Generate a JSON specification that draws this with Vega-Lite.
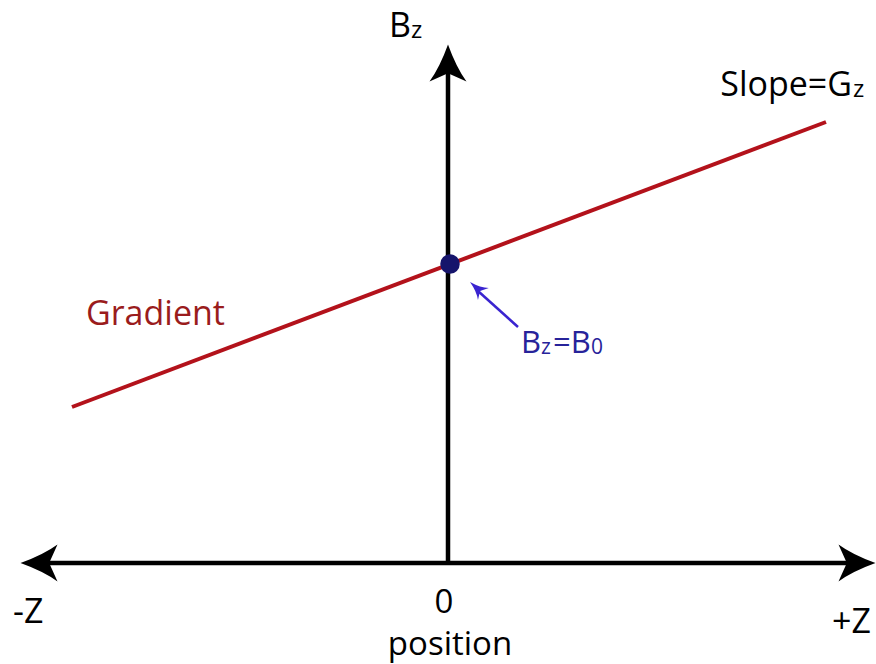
{
  "$schema": "https://vega.github.io/schema/vega-lite/v6.json",
  "width": 876,
  "height": 664,
  "autosize": {"type": "fit", "contains": "padding"},
  "padding": 0,
  "background": "white",
  "config": {"view": {"stroke": null}, "text": {"font": "Open Sans"}},
  "datasets": {
    "segments": [
      {"element": "axis", "x": 0, "y": 0, "x2": 0, "y2": 490},
      {"element": "axis", "x": -405, "y": 0, "x2": 405, "y2": 0},
      {"element": "gradient", "x": -376, "y": 156, "x2": 378, "y2": 441},
      {"element": "b0-arrow", "x": 70, "y": 236, "x2": 30, "y2": 272}
    ],
    "heads": [
      {"element": "axis", "x": 0, "y": 500, "heading": 0},
      {"element": "axis", "x": -409, "y": 0, "heading": 270},
      {"element": "axis", "x": 409, "y": 0, "heading": 90},
      {"element": "b0-arrow", "x": 28.7, "y": 275, "heading": 312}
    ],
    "dots": [
      {"element": "b0-dot", "x": 2, "y": 299}
    ],
    "labels": [
      {"element": "axis", "role": "main-top", "text": "B", "x": -59, "y": 526},
      {"element": "axis", "role": "sub", "text": "z", "x": -37, "y": 525},
      {"element": "axis", "role": "main-right", "text": "Slope=G", "x": 404, "y": 467},
      {"element": "axis", "role": "sub", "text": "z", "x": 405, "y": 466},
      {"element": "gradient-label", "role": "main", "text": "Gradient", "x": -362, "y": 238},
      {"element": "b0-label", "role": "main-b", "text": "B", "x": 73, "y": 210},
      {"element": "b0-label", "role": "sub-b", "text": "z", "x": 93, "y": 209},
      {"element": "b0-label", "role": "main-b", "text": "=B", "x": 105, "y": 210},
      {"element": "b0-label", "role": "sub-b", "text": "0", "x": 143, "y": 209},
      {"element": "axis", "role": "main", "text": "-Z", "x": -435, "y": -60},
      {"element": "axis", "role": "main-center", "text": "0", "x": -4, "y": -50},
      {"element": "axis", "role": "main-center", "text": "position", "x": 2, "y": -92},
      {"element": "axis", "role": "main-right", "text": "+Z", "x": 423, "y": -70}
    ]
  },
  "encoding": {
    "x": {"field": "x", "type": "quantitative", "scale": {"domain": [-448, 428], "nice": false, "zero": false}, "axis": null},
    "y": {"field": "y", "type": "quantitative", "scale": {"domain": [-101, 563], "nice": false, "zero": false}, "axis": null},
    "color": {
      "field": "element", "type": "nominal", "legend": null,
      "scale": {
        "domain": ["axis", "gradient", "gradient-label", "b0-label", "b0-arrow", "b0-dot"],
        "range": ["#000000", "#b3121b", "#9a1c1c", "#27239a", "#3a24d0", "#16146b"]
      }
    }
  },
  "layer": [
    {
      "data": {"name": "segments"},
      "transform": [{"filter": "datum.element === 'axis'"}],
      "mark": {"type": "rule", "strokeWidth": 4.5},
      "encoding": {"x2": {"field": "x2"}, "y2": {"field": "y2"}}
    },
    {
      "data": {"name": "segments"},
      "transform": [{"filter": "datum.element === 'gradient'"}],
      "mark": {"type": "rule", "strokeWidth": 4},
      "encoding": {"x2": {"field": "x2"}, "y2": {"field": "y2"}}
    },
    {
      "data": {"name": "segments"},
      "transform": [{"filter": "datum.element === 'b0-arrow'"}],
      "mark": {"type": "rule", "strokeWidth": 2.5},
      "encoding": {"x2": {"field": "x2"}, "y2": {"field": "y2"}}
    },
    {
      "data": {"name": "heads"},
      "transform": [{"filter": "datum.element === 'axis'"}],
      "mark": {"type": "point", "filled": true, "opacity": 1, "strokeWidth": 0, "size": 1369,
               "shape": "M0,-1 Q0.45,0.25 1.0,1 L0,0.55 L-1.0,1 Q-0.45,0.25 0,-1 Z"},
      "encoding": {"angle": {"field": "heading", "type": "quantitative", "scale": {"domain": [0, 360], "range": [0, 360]}}}
    },
    {
      "data": {"name": "heads"},
      "transform": [{"filter": "datum.element === 'b0-arrow'"}],
      "mark": {"type": "point", "filled": true, "opacity": 1, "strokeWidth": 0, "size": 324,
               "shape": "M0,-1 Q0.3,0.3 0.9,1 L0,0.5 L-0.9,1 Q-0.3,0.3 0,-1 Z"},
      "encoding": {"angle": {"field": "heading", "type": "quantitative", "scale": {"domain": [0, 360], "range": [0, 360]}}}
    },
    {
      "data": {"name": "dots"},
      "mark": {"type": "point", "shape": "circle", "filled": true, "opacity": 1, "size": 380, "strokeWidth": 0}
    },
    {
      "data": {"name": "labels"},
      "transform": [{"filter": "datum.role === 'main'"}],
      "mark": {"type": "text", "align": "left", "baseline": "alphabetic", "fontSize": 34},
      "encoding": {"text": {"field": "text"}}
    },
    {
      "data": {"name": "labels"},
      "transform": [{"filter": "datum.role === 'main-top'"}],
      "mark": {"type": "text", "align": "left", "baseline": "alphabetic", "fontSize": 34},
      "encoding": {"text": {"field": "text"}}
    },
    {
      "data": {"name": "labels"},
      "transform": [{"filter": "datum.role === 'main-right'"}],
      "mark": {"type": "text", "align": "right", "baseline": "alphabetic", "fontSize": 34},
      "encoding": {"text": {"field": "text"}}
    },
    {
      "data": {"name": "labels"},
      "transform": [{"filter": "datum.role === 'main-center'"}],
      "mark": {"type": "text", "align": "center", "baseline": "alphabetic", "fontSize": 33},
      "encoding": {"text": {"field": "text"}}
    },
    {
      "data": {"name": "labels"},
      "transform": [{"filter": "datum.role === 'sub'"}],
      "mark": {"type": "text", "align": "left", "baseline": "alphabetic", "fontSize": 24},
      "encoding": {"text": {"field": "text"}}
    },
    {
      "data": {"name": "labels"},
      "transform": [{"filter": "datum.role === 'main-b'"}],
      "mark": {"type": "text", "align": "left", "baseline": "alphabetic", "fontSize": 31},
      "encoding": {"text": {"field": "text"}}
    },
    {
      "data": {"name": "labels"},
      "transform": [{"filter": "datum.role === 'sub-b'"}],
      "mark": {"type": "text", "align": "left", "baseline": "alphabetic", "fontSize": 21},
      "encoding": {"text": {"field": "text"}}
    }
  ]
}
